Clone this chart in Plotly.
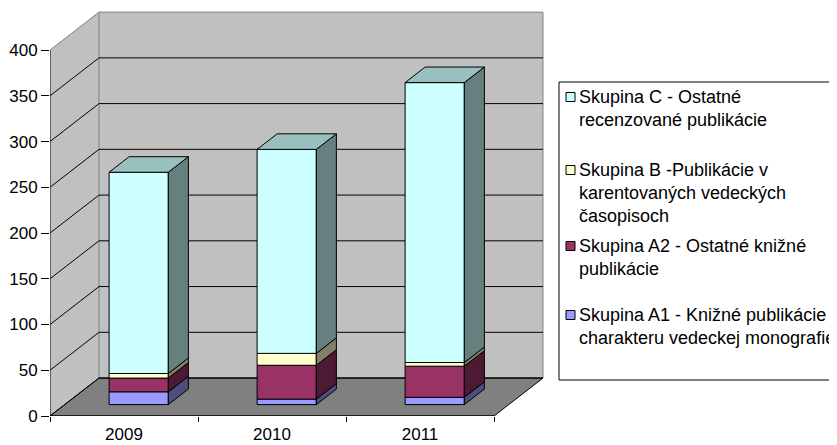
import plotly.graph_objects as go

# ---------------- data ----------------
YEARS = ["2009", "2010", "2011"]
A1 = [14, 6, 8]        # Skupina A1
A2 = [15, 37, 34]      # Skupina A2
B = [5, 13, 4]         # Skupina B
C = [220, 223, 306]    # Skupina C
Y_TICKS = [0, 50, 100, 150, 200, 250, 300, 350, 400]

LEGEND_A1 = ["Skupina A1 - Knižné publikácie", "charakteru vedeckej monografie"]
LEGEND_A2 = ["Skupina A2 - Ostatné knižné", "publikácie"]
LEGEND_B = ["Skupina B -Publikácie v", "karentovaných vedeckých", "časopisoch"]
LEGEND_C = ["Skupina C - Ostatné", "recenzované publikácie"]

# ---------------- styling ----------------
FONT = "Liberation Sans, Arial, sans-serif"
FS = 17
FS_LEG = 18
FRONT = {"A1": "#9999FF", "A2": "#993366", "B": "#FFFFCC", "C": "#CCFFFF"}
SIDE = {"A1": "#4D4D80", "A2": "#4D1A33", "B": "#808066", "C": "#668080"}
TOP = {"A1": "#7373BF", "A2": "#732650", "B": "#BFBF99", "C": "#99BFBF"}

OFF = 8                      # page body margin of the html page
W_FIG, H_FIG = 837 - OFF, 445 - OFF
ML, MB, MT = 42, 29, 0
PW = 497
PH = H_FIG - MB - MT
MR = W_FIG - ML - PW
XMAX = PW / 148.0
YMAX = 446

DX, DY = 0.331, 41.5      # floor depth (axis units)
F0, FD = 0.30, 0.41       # bar front position / bar depth (fractions of floor depth)
BW = 0.40                 # bar width (category units)
NCAT = len(YEARS)
YTOP = Y_TICKS[-1]

series = [("A1", A1), ("A2", A2), ("B", B), ("C", C)]

fig = go.Figure()

# --- bars: front faces, side faces, top face ---
cum = [0.0] * NCAT
sdx, sdy = FD * DX, FD * DY
for idx, (key, vals) in enumerate(series):
    xs = [i + 0.5 + F0 * DX for i in range(NCAT)]
    bases = [cum[i] + F0 * DY for i in range(NCAT)]
    fig.add_trace(go.Bar(
        x=xs, y=vals, base=bases, width=BW,
        marker=dict(color=FRONT[key], line=dict(color="black", width=1)),
        showlegend=False, name=key, hoverinfo="skip"))
    sx, sy = [], []
    for i in range(NCAT):
        xr = xs[i] + BW / 2
        b0 = bases[i]
        t0 = bases[i] + vals[i]
        sx += [xr, xr + sdx, xr + sdx, xr, xr, None]
        sy += [b0, b0 + sdy, t0 + sdy, t0, b0, None]
    fig.add_trace(go.Scatter(x=sx, y=sy, mode="lines", fill="toself",
                             fillcolor=SIDE[key], line=dict(color="black", width=1),
                             showlegend=False, hoverinfo="skip"))
    if idx == len(series) - 1:
        tx, ty = [], []
        for i in range(NCAT):
            xl = xs[i] - BW / 2
            xr = xs[i] + BW / 2
            T = bases[i] + vals[i]
            tx += [xl, xl + sdx, xr + sdx, xr, xl, None]
            ty += [T, T + sdy, T + sdy, T, T, None]
        fig.add_trace(go.Scatter(x=tx, y=ty, mode="lines", fill="toself",
                                 fillcolor=TOP[key], line=dict(color="black", width=1),
                                 showlegend=False, hoverinfo="skip"))
    cum = [cum[i] + vals[i] for i in range(NCAT)]

# --- walls, floor, gridlines ---
shapes = []
shapes.append(dict(type="path", xref="x", yref="y", layer="below",
                   path=f"M 0,0 L {DX},{DY} L {DX},{YTOP + DY} L 0,{YTOP} Z",
                   fillcolor="#C0C0C0", line=dict(width=0)))
shapes.append(dict(type="rect", xref="x", yref="y", layer="below",
                   x0=DX, y0=DY, x1=NCAT + DX, y1=YTOP + DY,
                   fillcolor="#C0C0C0", line=dict(color="#808080", width=1)))
shapes.append(dict(type="path", xref="x", yref="y", layer="below",
                   path=f"M 0,0 L {NCAT},0 L {NCAT + DX},{DY} L {DX},{DY} Z",
                   fillcolor="#808080", line=dict(color="black", width=1)))
for v in Y_TICKS[:-1]:
    shapes.append(dict(type="line", xref="x", yref="y", layer="below",
                       x0=DX, y0=v + DY, x1=NCAT + DX, y1=v + DY,
                       line=dict(color="black", width=1)))
    shapes.append(dict(type="line", xref="x", yref="y", layer="below",
                       x0=0, y0=v, x1=DX, y1=v + DY,
                       line=dict(color="black", width=1)))
shapes.append(dict(type="line", xref="x", yref="y", layer="below",
                   x0=0, y0=YTOP, x1=DX, y1=YTOP + DY,
                   line=dict(color="#808080", width=1)))
# axis lines
shapes.append(dict(type="line", xref="x", yref="y", layer="above",
                   x0=0, y0=0, x1=0, y1=YTOP, line=dict(color="black", width=1)))
shapes.append(dict(type="line", xref="x", yref="y", layer="above",
                   x0=0, y0=0, x1=NCAT, y1=0, line=dict(color="black", width=1)))


# --- legend (drawn manually, Excel-style box); positions given in window pixels ---
def xp(px):
    return (px - OFF - ML) / PW


def yp(py):
    return (H_FIG - MB - (py - OFF)) / PH


shapes.append(dict(type="rect", xref="paper", yref="paper", layer="above",
                   x0=xp(559), y0=yp(82), x1=xp(850), y1=yp(380),
                   fillcolor="white", line=dict(color="black", width=1)))

annotations = []
legend_entries = [("C", LEGEND_C, 97), ("B", LEGEND_B, 170),
                  ("A2", LEGEND_A2, 246), ("A1", LEGEND_A1, 315)]
LINE_H = 23
for key, lines, y0 in legend_entries:
    shapes.append(dict(type="rect", xref="paper", yref="paper", layer="above",
                       x0=xp(566), y0=yp(y0 + 4.5), x1=xp(575), y1=yp(y0 - 4.5),
                       fillcolor=FRONT[key], line=dict(color="black", width=1)))
    for j, txt in enumerate(lines):
        annotations.append(dict(xref="paper", yref="paper", x=xp(578), y=yp(y0 + j * LINE_H),
                                xanchor="left", yanchor="middle", text=txt, showarrow=False,
                                font=dict(family=FONT, size=FS_LEG, color="black"), borderpad=0))

fig.update_layout(
    width=W_FIG, height=H_FIG, autosize=False,
    margin=dict(l=ML, r=MR, t=MT, b=MB, pad=0, autoexpand=False),
    paper_bgcolor="white", plot_bgcolor="white",
    barmode="overlay", showlegend=False,
    font=dict(family=FONT, size=FS, color="black"),
    shapes=shapes, annotations=annotations,
    xaxis=dict(range=[0, XMAX], tickmode="array", tickvals=[i + 0.5 for i in range(NCAT)],
               ticktext=YEARS, ticks="outside", ticklen=3, tickcolor="rgba(0,0,0,0)",
               showgrid=False, zeroline=False, showline=False, ticklabelstandoff=0,
               automargin=False,
               minor=dict(tickmode="array", tickvals=list(range(NCAT + 1)), ticks="outside",
                          ticklen=5, tickcolor="black", tickwidth=1, showgrid=False),
               fixedrange=True),
    yaxis=dict(range=[0, YMAX], tickmode="array", tickvals=Y_TICKS, ticks="outside",
               ticklen=8, tickcolor="black", tickwidth=1, showgrid=False, zeroline=False,
               showline=False, fixedrange=True, automargin=False),
)

fig.write_html("out.html")
